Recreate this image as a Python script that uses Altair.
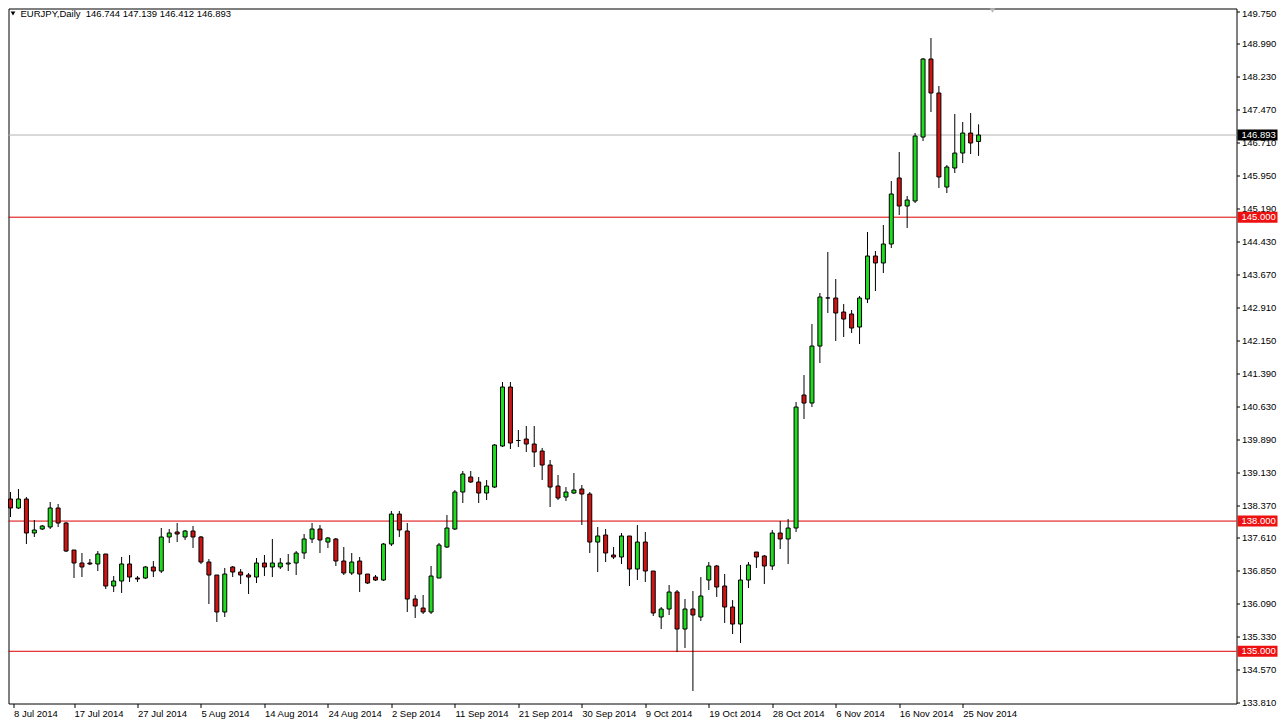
import json
import numpy as np
import pandas as pd
import altair as alt

# ---------------- data ----------------
symbol = "EURJPY"
period = "Daily"

opens = [138.508, 138.301, 138.508, 137.725, 137.817, 137.863, 138.301, 137.955, 137.333, 137.034,
         137.034, 137.011, 137.241, 136.504, 136.619, 137.011, 136.688, 136.688, 136.942, 136.849,
         137.633, 137.748, 137.633, 137.771, 137.633, 137.057, 136.757, 135.905, 136.942, 136.826,
         136.757, 136.711, 137.034, 136.942, 136.942, 137.011, 137.034, 137.264, 137.587, 137.817,
         137.517, 137.587, 137.080, 136.803, 137.080, 136.780, 136.711, 136.642, 137.471, 138.162,
         137.771, 136.204, 135.997, 135.905, 136.688, 137.402, 137.817, 138.669, 139.015, 138.900,
         138.646, 138.784, 139.729, 141.088, 139.856, 139.890, 139.775, 139.614, 139.291, 138.807,
         138.554, 138.646, 138.738, 138.623, 137.517, 137.679, 137.218, 137.172, 137.656, 136.895,
         137.517, 136.849, 135.790, 135.974, 136.366, 135.513, 135.974, 135.790, 136.642, 136.965,
         136.504, 136.020, 135.628, 136.642, 137.287, 137.195, 136.965, 137.725, 137.587, 137.840,
         140.904, 140.719, 142.032, 143.140, 143.138, 142.816, 142.770, 142.470, 143.115, 144.106,
         143.945, 144.382, 145.903, 145.258, 145.373, 146.847, 148.644, 147.861, 145.695, 146.133,
         146.478, 146.939, 146.744]
highs = [138.669, 138.738, 138.554, 138.024, 137.909, 138.439, 138.393, 137.978, 137.333, 137.264,
         137.126, 137.310, 137.241, 136.734, 137.172, 137.218, 136.734, 136.965, 137.080, 137.840,
         137.817, 137.955, 137.794, 137.886, 137.656, 137.126, 136.757, 136.919, 136.965, 136.895,
         136.803, 137.149, 137.218, 137.587, 137.149, 137.241, 137.310, 137.702, 137.955, 137.909,
         137.633, 137.610, 137.402, 137.264, 137.172, 136.780, 136.757, 137.494, 138.232, 138.232,
         137.955, 136.297, 136.297, 136.965, 137.494, 138.139, 138.715, 139.153, 139.153, 139.015,
         138.946, 139.775, 141.203, 141.203, 140.098, 140.190, 140.190, 139.683, 139.406, 139.061,
         138.784, 139.107, 138.830, 138.669, 137.863, 137.817, 137.402, 137.725, 137.656, 137.909,
         137.748, 136.849, 136.020, 136.527, 136.412, 136.204, 136.389, 136.711, 137.057, 136.988,
         136.780, 136.181, 136.988, 137.057, 137.287, 137.218, 137.794, 138.001, 138.047, 140.743,
         141.364, 142.539, 143.253, 144.198, 143.576, 143.000, 142.862, 143.184, 144.659, 144.221,
         144.820, 145.833, 146.501, 145.488, 146.939, 148.667, 149.128, 148.022, 146.202, 147.377,
         147.193, 147.400, 147.139]
lows = [138.093, 138.278, 137.471, 137.633, 137.794, 137.817, 137.863, 137.287, 136.688, 136.711,
        136.988, 136.849, 136.435, 136.366, 136.343, 136.596, 136.596, 136.665, 136.711, 136.803,
        137.494, 137.517, 137.564, 137.379, 137.011, 136.089, 135.675, 135.790, 136.711, 136.550,
        136.320, 136.573, 136.734, 136.711, 136.895, 136.849, 136.757, 137.126, 137.494, 137.264,
        137.379, 136.965, 136.757, 136.757, 136.366, 136.550, 136.619, 136.619, 137.425, 137.633,
        135.905, 135.767, 135.859, 135.859, 136.688, 137.379, 137.794, 138.416, 138.877, 138.416,
        138.485, 138.761, 139.706, 139.660, 139.706, 139.591, 139.245, 138.946, 138.324, 138.485,
        138.462, 138.623, 137.909, 137.264, 136.826, 137.057, 137.126, 137.011, 136.504, 136.642,
        136.596, 135.813, 135.513, 135.836, 134.983, 135.076, 134.085, 135.698, 136.412, 136.251,
        135.652, 135.398, 135.191, 136.458, 136.919, 136.550, 136.872, 137.356, 137.011, 137.748,
        140.351, 140.627, 141.641, 142.793, 142.148, 142.240, 142.332, 142.079, 143.023, 143.300,
        143.714, 144.290, 145.050, 144.751, 145.327, 146.755, 147.423, 145.672, 145.557, 146.018,
        146.248, 146.455, 146.412]
closes = [138.301, 138.508, 137.725, 137.794, 137.886, 138.301, 137.955, 137.310, 137.034, 136.942,
          137.011, 137.241, 136.504, 136.619, 137.011, 136.711, 136.665, 136.942, 136.849, 137.633,
          137.725, 137.702, 137.771, 137.633, 137.057, 136.757, 135.905, 136.780, 136.826, 136.757,
          136.711, 137.034, 136.942, 137.034, 137.034, 137.034, 137.264, 137.587, 137.817, 137.564,
          137.610, 137.080, 136.803, 137.057, 136.780, 136.573, 136.642, 137.471, 138.162, 137.794,
          136.204, 136.043, 135.905, 136.734, 137.448, 137.840, 138.669, 139.084, 138.900, 138.646,
          138.807, 139.752, 141.088, 139.798, 139.856, 139.775, 139.591, 139.291, 138.784, 138.531,
          138.669, 138.715, 138.623, 137.517, 137.656, 137.264, 137.172, 137.656, 136.895, 137.517,
          136.849, 135.882, 135.974, 136.366, 135.513, 135.974, 135.836, 136.274, 136.965, 136.481,
          136.020, 135.628, 136.642, 136.988, 137.172, 136.965, 137.725, 137.587, 137.840, 140.627,
          140.719, 142.032, 143.161, 143.140, 142.793, 142.654, 142.447, 143.138, 144.106, 143.945,
          144.382, 145.534, 145.258, 145.396, 146.870, 148.644, 147.861, 145.926, 146.156, 146.478,
          146.939, 146.709, 146.893]

# one label every 8 bars
date_labels = ["8 Jul 2014", "17 Jul 2014", "27 Jul 2014", "5 Aug 2014", "14 Aug 2014",
               "24 Aug 2014", "2 Sep 2014", "11 Sep 2014", "21 Sep 2014", "30 Sep 2014",
               "9 Oct 2014", "19 Oct 2014", "28 Oct 2014", "6 Nov 2014", "16 Nov 2014",
               "25 Nov 2014"]
label_step = 8

y_ticks = [149.750, 148.990, 148.230, 147.470, 146.710, 145.950, 145.190, 144.430, 143.670,
           142.910, 142.150, 141.390, 140.630, 139.890, 139.130, 138.370, 137.610, 136.850,
           136.090, 135.330, 134.570, 133.810]

levels = [145.000, 138.000, 135.000]

# ---------------- styling ----------------
FONT = "Liberation Sans"
FS = 9.5
UP = "#1fdc1f"
DOWN = "#d01414"
LEVEL = "#dd0000"
W, H = 1228, 695

df = pd.DataFrame({"i": np.arange(len(opens)), "open": opens, "high": highs,
                   "low": lows, "close": closes})
df["dir"] = np.where(df["close"] >= df["open"], "up", "down")

xs = alt.Scale(domain=[0.375, 153.875], nice=False, zero=False)
ys = alt.Scale(domain=[133.7974, 149.8076], nice=False, zero=False)

x_axis = alt.Axis(
    values=[0.375] + [label_step * k for k in range(1, len(date_labels))],
    labelExpr=json.dumps(date_labels) + "[round(datum.value / %d)]" % label_step,
    title=None, grid=False, domain=False, tickSize=4, tickColor="black",
    labelAlign="left", labelBaseline="top", labelPadding=1, labelFlush=False,
    labelOverlap=False, labelFont=FONT, labelFontSize=FS, labelColor="black")
y_axis = alt.Axis(
    orient="right", values=y_ticks, format=".3f", title=None, grid=False, domain=False,
    tickSize=3, tickColor="black", labelPadding=2, labelOverlap=False,
    labelOffset={"condition": {"test": "datum.value > %f" % (y_ticks[0] - 0.1), "value": 2},
                 "value": 0},
    labelFont=FONT, labelFontSize=FS, labelColor="black", labelBaseline="middle")

def Y(field):
    return alt.Y(field, scale=ys, axis=y_axis)

def X(field):
    return alt.X(field, scale=xs, axis=x_axis)

base = alt.Chart(df)

lvl_df = pd.DataFrame({"price": levels})
cur_df = pd.DataFrame({"price": [closes[-1]]})

cur_line = alt.Chart(cur_df).mark_rule(color="#b4b4b4", strokeWidth=1).encode(y=Y("price:Q"))
lvl_lines = alt.Chart(lvl_df).mark_rule(color=LEVEL, strokeWidth=1).encode(y=Y("price:Q"))

wicks = base.mark_rule(color="black", strokeWidth=1).encode(
    x=X("i:Q"), y=Y("low:Q"), y2="high:Q")
bodies = base.mark_bar(size=4, stroke="black", strokeWidth=1).encode(
    x=X("i:Q"), y=Y("open:Q"), y2="close:Q",
    color=alt.Color("dir:N", scale=alt.Scale(domain=["up", "down"], range=[UP, DOWN]),
                    legend=None))

lvl_box = alt.Chart(lvl_df).mark_rect(color="#ee1111", yOffset=-5.5, y2Offset=5.5).encode(
    x=alt.value(W + 1), x2=alt.value(W + 41), y=Y("price:Q"), y2="price:Q")
lvl_txt = alt.Chart(lvl_df).mark_text(align="left", baseline="middle", font=FONT,
                                      fontSize=FS, color="white").encode(
    x=alt.value(W + 5), y=Y("price:Q"), text=alt.Text("price:Q", format=".3f"))
cur_box = alt.Chart(cur_df).mark_rect(color="black", yOffset=-5.5, y2Offset=5.5).encode(
    x=alt.value(W + 1), x2=alt.value(W + 41), y=Y("price:Q"), y2="price:Q")
cur_txt = alt.Chart(cur_df).mark_text(align="left", baseline="middle", font=FONT,
                                      fontSize=FS, color="white").encode(
    x=alt.value(W + 5), y=Y("price:Q"), text=alt.Text("price:Q", format=".3f"))

header = "%s,%s\u00a0\u00a0%.3f %.3f %.3f %.3f" % (symbol, period, opens[-1], highs[-1],
                                                   lows[-1], closes[-1])
hdr = alt.Chart(pd.DataFrame({"t": [header]})).mark_text(
    align="left", baseline="middle", font=FONT, fontSize=FS, color="black").encode(
    x=alt.value(12), y=alt.value(5), text="t:N")
hdr_tri = alt.Chart(pd.DataFrame({"a": [0]})).mark_point(
    shape="triangle-down", filled=True, size=22, color="black", opacity=1).encode(
    x=alt.value(4.5), y=alt.value(5))
shift_tri = alt.Chart(pd.DataFrame({"a": [0]})).mark_point(
    shape="triangle-down", filled=True, size=30, color="#b8b8b8", opacity=1).encode(
    x=alt.value(984), y=alt.value(2))

chart = alt.layer(
    cur_line, lvl_lines, wicks, bodies, lvl_box, lvl_txt, cur_box, cur_txt, hdr, hdr_tri, shift_tri
).properties(
    width=W, height=H,
    autosize=alt.AutoSizeParams(type="none"),
    padding={"left": 0.5, "top": 0.5, "right": 41.5, "bottom": 15.5},
    background="white",
).configure_view(stroke="black", strokeWidth=1)

chart.save("out.html", embed_options={"renderer": "svg", "actions": False})
